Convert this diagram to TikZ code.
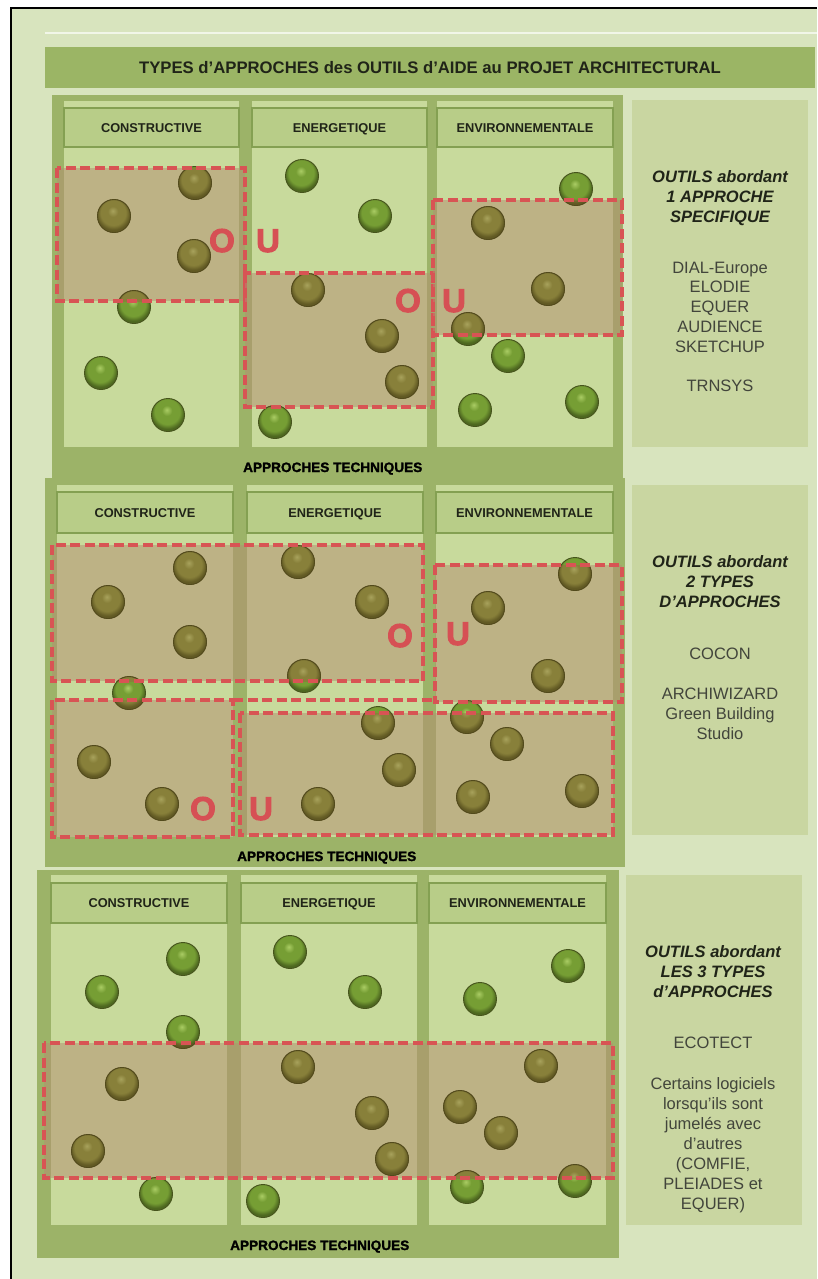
\documentclass[tikz,border=0pt]{standalone}
\usepackage{fontspec}
\setmainfont{Liberation Sans}
\newfontfamily\heavyfont{Liberation Sans Bold}[FakeBold=1.6]
\newfontfamily\blackfont{Liberation Sans Bold}[FakeBold=3]
\definecolor{pageBg}{RGB}{216,228,190}
\definecolor{panelGreen}{RGB}{156,179,104}
\definecolor{colLight}{RGB}{200,218,156}
\definecolor{headFill}{RGB}{184,205,136}
\definecolor{headLine}{RGB}{132,160,82}
\definecolor{sideFill}{RGB}{201,214,161}
\definecolor{titleFill}{RGB}{155,181,101}
\definecolor{inkDark}{RGB}{32,36,24}
\definecolor{zoneRed}{RGB}{216,84,84}
\definecolor{zoneTint}{RGB}{180,140,112}
\definecolor{orRed}{RGB}{214,80,84}
\definecolor{peaHi}{RGB}{170,204,100}
\definecolor{peaMid}{RGB}{118,158,52}
\definecolor{peaDk}{RGB}{78,104,32}
\definecolor{peaEdge}{RGB}{70,84,28}
\definecolor{oliveHi}{RGB}{168,162,92}
\definecolor{oliveMid}{RGB}{136,128,58}
\definecolor{oliveDk}{RGB}{98,90,36}
\definecolor{oliveEdge}{RGB}{82,74,28}
\pgfdeclareradialshading{pea}{\pgfpoint{-2bp}{8bp}}{color(0bp)=(peaHi); color(8bp)=(peaMid); color(19bp)=(peaMid); color(25bp)=(peaDk); color(50bp)=(peaDk)}
\pgfdeclareradialshading{olive}{\pgfpoint{-2bp}{8bp}}{color(0bp)=(oliveHi); color(8bp)=(oliveMid); color(19bp)=(oliveMid); color(25bp)=(oliveDk); color(50bp)=(oliveDk)}
\tikzset{
  pea/.style={circle, minimum size=33pt, inner sep=0pt, shading=pea, draw=peaEdge, line width=0.9pt},
  zoneline/.style={draw=zoneRed, line width=4pt, dash pattern=on 10pt off 4.5pt},
  panel/.style={fill=panelGreen},
  column/.style={fill=colLight},
  headbox/.style={fill=headFill, draw=headLine, line width=1.4pt, inner sep=0pt,
    text height=9.3pt, text depth=0pt, text=inkDark, font=\fontsize{12.8}{14}\selectfont\bfseries},
  sidebox/.style={fill=sideFill},
  sidehead/.style={inner sep=0pt, anchor=base, text=inkDark, font=\fontsize{16.5}{20}\selectfont\bfseries\itshape},
  sidetext/.style={inner sep=0pt, anchor=base, text=inkDark!85, font=\fontsize{16.5}{20}\selectfont},
  techtext/.style={inner sep=0pt, anchor=base west, text=black, font=\fontsize{13.6}{16}\selectfont\heavyfont},
  ortext/.style={inner sep=0pt, anchor=base, text=orRed, font=\fontsize{33}{35}\selectfont\blackfont},
  titlebar/.style={fill=titleFill, inner sep=0pt, text height=12pt, text depth=0pt, text=inkDark,
    font=\fontsize{16.7}{18}\selectfont\bfseries}
}
% a tinted zone: translucent fill, peas inside turned olive, dashed red border
\newcommand\olivezone[5]{%
  \begin{scope}
    \clip (#1,#2) rectangle (#3,#4);
    \fill[zoneTint, fill opacity=0.5] (#1,#2) rectangle (#3,#4);
    \foreach \px/\py in #5 {
      \shadedraw[shading=olive, draw=oliveEdge, line width=0.9pt] (\px,\py) circle[radius=16.5pt];
    }
  \end{scope}
  \draw[zoneline] (#1,#2) rectangle (#3,#4);
}
\def\peasA{195/183,114/216,194/256,134/307,101/373,168/415,
  302/176,375/216,308/290,382/336,402/382,275/422,
  576/189,488/223,548/289,468/329,508/356,475/410,582/402}
\def\peasB{190/568,108/602,190/642,129/693,94/762,162/804,
  298/562,372/602,304/676,378/723,399/770,318/804,
  575/574,488/608,548/676,467/717,507/744,473/797,582/791}
\def\peasC{183/959,102/992,183/1032,122/1084,88/1151,156/1194,
  290/952,365/992,298/1067,372/1113,392/1159,263/1201,
  568/966,480/999,541/1066,460/1107,501/1133,467/1187,575/1181}
\begin{document}
\begin{tikzpicture}[x=1pt,y=-1pt]
\useasboundingbox (0,0) rectangle (817,1279);
% page and frame
\fill[white] (0,0) rectangle (817,1279);
\fill[pageBg] (11,8) rectangle (817,1279);
\draw[black, line width=2.2pt] (11,1279) -- (11,8) -- (817,8);
\draw[white!65!pageBg, line width=2pt] (45,33) -- (817,33);

% title
\node[titlebar, minimum width=770pt, minimum height=41pt] (title) at (430,67.5)
  {TYPES d'APPROCHES des OUTILS d'AIDE au PROJET ARCHITECTURAL};

% ---------------- panel 1 : one approach ----------------
\fill[panel] (52,95) rectangle (623,480);
\fill[column] (64,101) rectangle (239,447);
\fill[column] (252,101) rectangle (427,447);
\fill[column] (437,101) rectangle (613,447);
\node[headbox, minimum width=175pt, minimum height=39pt] (h1a) at (151.5,127.5) {CONSTRUCTIVE};
\node[headbox, minimum width=175pt, minimum height=39pt] (h1b) at (339.5,127.5) {ENERGETIQUE};
\node[headbox, minimum width=176pt, minimum height=39pt] (h1c) at (525,127.5) {ENVIRONNEMENTALE};
\foreach \px/\py [count=\k] in \peasA
  \node[pea] (pa\k) at (\px,\py) {};
\olivezone{57}{168}{245}{301}{\peasA}
\olivezone{245}{273}{433}{407}{\peasA}
\olivezone{433}{200}{622}{335}{\peasA}
\node[ortext] (o1a) at (222,252) {O};
\node[ortext] (u1a) at (268,252) {U};
\node[ortext] (o1b) at (408,312) {O};
\node[ortext] (u1b) at (454,312) {U};
\node[techtext] (t1) at (243,472) {APPROCHES TECHNIQUES};
\fill[sidebox] (632,100) rectangle (808,447);
\node[sidehead] (s1a) at (720,182) {OUTILS abordant};
\node[sidehead] (s1b) at (720,202) {1 APPROCHE};
\node[sidehead] (s1c) at (720,222) {SPECIFIQUE};
\node[sidetext] (s1d) at (720,273) {DIAL-Europe};
\node[sidetext] (s1e) at (720,292) {ELODIE};
\node[sidetext] (s1f) at (720,312) {EQUER};
\node[sidetext] (s1g) at (720,332) {AUDIENCE};
\node[sidetext] (s1h) at (720,352) {SKETCHUP};
\node[sidetext] (s1i) at (720,391) {TRNSYS};

% ---------------- panel 2 : two approaches ----------------
\fill[panel] (45,478) rectangle (625,867);
\fill[column] (57,485) rectangle (233,837);
\fill[column] (247,485) rectangle (423,837);
\fill[column] (436,485) rectangle (613,837);
\node[headbox, minimum width=176pt, minimum height=41pt] (h2a) at (145,512.5) {CONSTRUCTIVE};
\node[headbox, minimum width=176pt, minimum height=41pt] (h2b) at (335,512.5) {ENERGETIQUE};
\node[headbox, minimum width=177pt, minimum height=41pt] (h2c) at (524.5,512.5) {ENVIRONNEMENTALE};
\foreach \px/\py [count=\k] in \peasB
  \node[pea] (pb\k) at (\px,\py) {};
\olivezone{52}{545}{423}{681}{\peasB}
\olivezone{435}{565}{622}{702}{\peasB}
\olivezone{52}{700}{233}{837}{\peasB}
\olivezone{240}{713}{613}{835}{\peasB}
\coordinate (f2corner) at (233,700);
\coordinate (f2end) at (435,700);
\draw[zoneline] (f2corner) -- (f2end);
\node[ortext] (o2a) at (400,647) {O};
\node[ortext] (u2a) at (458,645) {U};
\node[ortext] (o2b) at (203,820) {O};
\node[ortext] (u2b) at (261,820) {U};
\node[techtext] (t2) at (237,861) {APPROCHES TECHNIQUES};
\fill[sidebox] (632,485) rectangle (808,835);
\node[sidehead] (s2a) at (720,567) {OUTILS abordant};
\node[sidehead] (s2b) at (720,587) {2 TYPES};
\node[sidehead] (s2c) at (720,607) {D'APPROCHES};
\node[sidetext] (s2d) at (720,659) {COCON};
\node[sidetext] (s2e) at (720,699) {ARCHIWIZARD};
\node[sidetext] (s2f) at (720,719) {Green Building};
\node[sidetext] (s2g) at (720,739) {Studio};

% ---------------- panel 3 : three approaches ----------------
\fill[panel] (37,870) rectangle (619,1258);
\fill[column] (51,875) rectangle (227,1225);
\fill[column] (241,875) rectangle (417,1225);
\fill[column] (429,875) rectangle (606,1225);
\node[headbox, minimum width=176pt, minimum height=40pt] (h3a) at (139,903) {CONSTRUCTIVE};
\node[headbox, minimum width=176pt, minimum height=40pt] (h3b) at (329,903) {ENERGETIQUE};
\node[headbox, minimum width=177pt, minimum height=40pt] (h3c) at (517.5,903) {ENVIRONNEMENTALE};
\foreach \px/\py [count=\k] in \peasC
  \node[pea] (pc\k) at (\px,\py) {};
\olivezone{44}{1043}{613}{1178}{\peasC}
\node[techtext] (t3) at (230,1250) {APPROCHES TECHNIQUES};
\fill[sidebox] (626,875) rectangle (802,1225);
\node[sidehead] (s3a) at (713,957) {OUTILS abordant};
\node[sidehead] (s3b) at (713,977) {LES 3 TYPES};
\node[sidehead] (s3c) at (713,997) {d'APPROCHES};
\node[sidetext] (s3d) at (713,1048) {ECOTECT};
\node[sidetext] (s3e) at (713,1089) {Certains logiciels};
\node[sidetext] (s3f) at (713,1109) {lorsqu'ils sont};
\node[sidetext] (s3g) at (713,1129) {jumelés avec};
\node[sidetext] (s3h) at (713,1149) {d'autres};
\node[sidetext] (s3i) at (713,1169) {(COMFIE,};
\node[sidetext] (s3j) at (713,1189) {PLEIADES et};
\node[sidetext] (s3k) at (713,1209) {EQUER)};
\end{tikzpicture}
\end{document}
